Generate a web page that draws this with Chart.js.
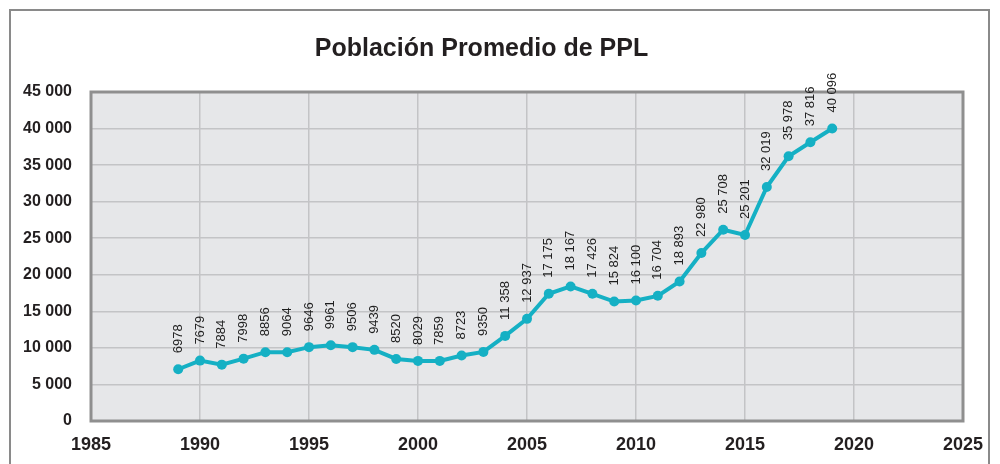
<!DOCTYPE html>
<html>
<head>
<meta charset="utf-8">
<script src="https://cdn.jsdelivr.net/npm/chart.js@4/dist/chart.umd.min.js"></script>
<style>
  html, body { margin: 0; padding: 0; background: #fff; }
  #wrap { position: relative; width: 1000px; height: 464px; overflow: hidden; }
  #frame { position: absolute; left: 9px; top: 9px; width: 981px; height: 500px; border: 2px solid #8a8a8a; box-sizing: border-box; }
  canvas { position: absolute; left: 0; top: 0; }
</style>
</head>
<body>
<div id="wrap">
  <div id="frame"></div>
  <canvas id="chart" width="1000" height="464"></canvas>
</div>
<script>
const years = [1989, 1990, 1991, 1992, 1993, 1994, 1995, 1996, 1997, 1998, 1999, 2000, 2001, 2002, 2003, 2004,
  2005, 2006, 2007, 2008, 2009, 2010, 2011, 2012, 2013, 2014, 2015, 2016, 2017, 2018, 2019];
// plotted positions
const population = [7080, 8260, 7710, 8530, 9410, 9410, 10100, 10370, 10100, 9730, 8490, 8220, 8220, 8950, 9450, 11640,
  13970, 17400, 18400, 17400, 16340, 16480, 17120, 19080, 22970, 26160, 25440, 32010, 36200, 38120, 40000];
// value labels as printed on the chart
const valueLabels = ["6978", "7679", "7884", "7998", "8856", "9064", "9646", "9961", "9506", "9439", "8520", "8029",
  "7859", "8723", "9350", "11 358", "12 937", "17 175", "18 167", "17 426", "15 824", "16 100", "16 704", "18 893",
  "22 980", "25 708", "25 201", "32 019", "35 978", "37 816", "40 096"];
const title = "Población Promedio de PPL";

const lineColor = "#15b0c4";
const font = "'Liberation Sans', Arial, sans-serif";

const plotBackground = {
  id: "plotBackground",
  beforeDraw(chart) {
    const { ctx, chartArea: a } = chart;
    ctx.save();
    ctx.fillStyle = "#e6e7e9";
    ctx.fillRect(a.left, a.top, a.right - a.left, a.bottom - a.top);
    ctx.restore();
  },
  beforeDatasetsDraw(chart) {
    const { ctx, chartArea: a } = chart;
    ctx.save();
    ctx.strokeStyle = "#8f8f8f";
    ctx.lineWidth = 3;
    ctx.strokeRect(a.left, a.top, a.right - a.left, a.bottom - a.top);
    ctx.restore();
  }
};

const valueLabelPlugin = {
  id: "valueLabels",
  afterDatasetsDraw(chart) {
    const ctx = chart.ctx;
    const meta = chart.getDatasetMeta(0);
    ctx.save();
    ctx.fillStyle = "#1e1e1e";
    ctx.font = "13px " + font;
    ctx.textAlign = "left";
    ctx.textBaseline = "middle";
    meta.data.forEach((pt, i) => {
      ctx.save();
      ctx.translate(pt.x, pt.y - 16);
      ctx.rotate(-Math.PI / 2);
      ctx.fillText(valueLabels[i], 0, 0);
      ctx.restore();
    });
    ctx.restore();
  }
};

new Chart(document.getElementById("chart"), {
  type: "line",
  data: {
    datasets: [{
      data: years.map((y, i) => ({ x: y, y: population[i] })),
      borderColor: lineColor,
      backgroundColor: lineColor,
      borderWidth: 4,
      pointRadius: 5,
      pointBorderWidth: 0,
      tension: 0
    }]
  },
  options: {
    responsive: false,
    animation: false,
    layout: { padding: { left: 0, right: 37, top: 0, bottom: 0 } },
    plugins: {
      legend: { display: false },
      tooltip: { enabled: false },
      title: {
        display: true,
        text: title,
        color: "#231f20",
        font: { family: font, size: 25, weight: "bold" },
        padding: { top: 34, bottom: 28 }
      }
    },
    scales: {
      x: {
        type: "linear",
        min: 1985,
        max: 2025,
        ticks: {
          stepSize: 5,
          color: "#231f20",
          font: { family: font, size: 18, weight: "bold" },
          padding: 13,
          callback: v => String(v)
        },
        grid: { color: "#c3c4c6", lineWidth: 1.5, drawTicks: false },
        border: { display: false },
        afterFit(s) { s.height = 43; }
      },
      y: {
        min: 0,
        max: 45000,
        ticks: {
          stepSize: 5000,
          color: "#231f20",
          font: { family: font, size: 16, weight: "bold" },
          padding: 19,
          callback: v => String(v).replace(/\B(?=(\d{3})+(?!\d))/g, " ")
        },
        grid: { color: "#c3c4c6", lineWidth: 1.5, drawTicks: false },
        border: { display: false },
        afterFit(s) { s.width = 91; }
      }
    }
  },
  plugins: [plotBackground, valueLabelPlugin]
});
</script>
</body>
</html>
